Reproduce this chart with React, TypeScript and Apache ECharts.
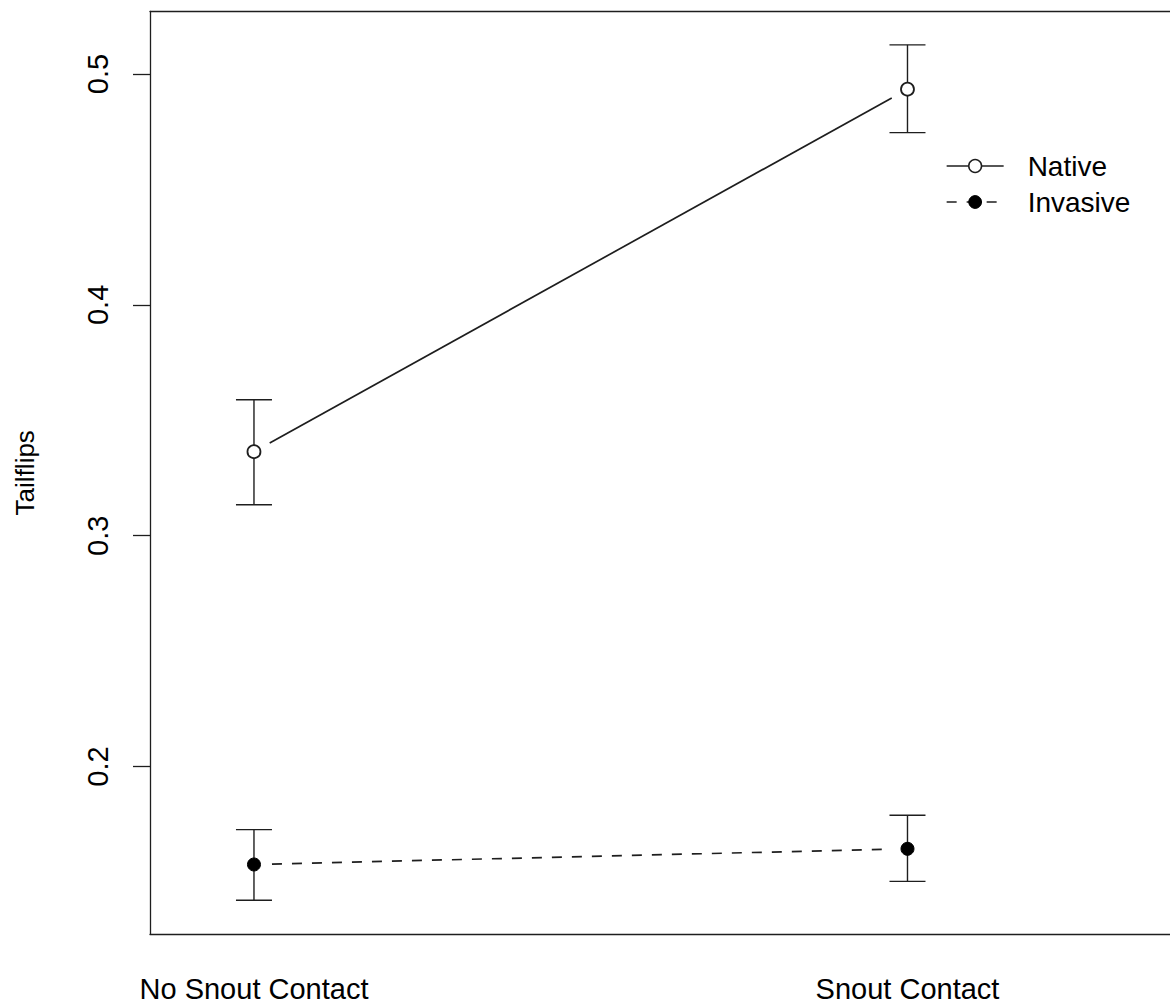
import React, { useEffect, useRef } from "react";
import * as echarts from "echarts";

// Treatment groups along the x axis
const categories = ["No Snout Contact", "Snout Contact"];

// Mean tailflip rate with error bar limits, per group
const nativeMean = [0.3364, 0.4934];
const nativeLower = [0.3134, 0.4746];
const nativeUpper = [0.3589, 0.5126];

const invasiveMean = [0.1576, 0.1644];
const invasiveLower = [0.1421, 0.1503];
const invasiveUpper = [0.1727, 0.1789];

const yTicks = [0.2, 0.3, 0.4, 0.5];

const INK = "#1e1e1e";
const FONT = "'Liberation Sans', Arial, sans-serif";

// category i sits at x = i + 1 on the numeric axis
const xs = categories.map((_, i) => i + 1);

function segments(mean: number[]) {
  const out: number[][] = [];
  for (let i = 0; i < mean.length - 1; i++) {
    out.push([xs[i], mean[i], xs[i + 1], mean[i + 1]]);
  }
  return out;
}

function errorData(lo: number[], hi: number[]) {
  return xs.map((x, i) => [x, lo[i], hi[i]]);
}

// connecting line that stops short of each point marker
function segmentRenderer(dash: number[] | null) {
  const gap = 18;
  return (params: any, api: any) => {
    const a = api.coord([api.value(0), api.value(1)]);
    const b = api.coord([api.value(2), api.value(3)]);
    const dx = b[0] - a[0];
    const dy = b[1] - a[1];
    const len = Math.hypot(dx, dy) || 1;
    const ux = dx / len;
    const uy = dy / len;
    return {
      type: "line",
      shape: {
        x1: a[0] + ux * gap,
        y1: a[1] + uy * gap,
        x2: b[0] - ux * gap,
        y2: b[1] - uy * gap,
      },
      style: { stroke: INK, lineWidth: 1.7, lineDash: dash || undefined },
    };
  };
}

function errorRenderer(params: any, api: any) {
  const x = api.value(0);
  const lo = api.coord([x, api.value(1)]);
  const hi = api.coord([x, api.value(2)]);
  const hw = 18;
  const style = { stroke: INK, lineWidth: 1.4 };
  return {
    type: "group",
    children: [
      { type: "line", shape: { x1: lo[0], y1: lo[1], x2: hi[0], y2: hi[1] }, style },
      { type: "line", shape: { x1: lo[0] - hw, y1: lo[1], x2: lo[0] + hw, y2: lo[1] }, style },
      { type: "line", shape: { x1: hi[0] - hw, y1: hi[1], x2: hi[0] + hw, y2: hi[1] }, style },
    ],
  };
}

export default function App() {
  const ref = useRef<HTMLDivElement>(null);

  useEffect(() => {
    document.body.style.margin = "0";
    const chart = echarts.init(ref.current!, null, { renderer: "svg" });

    const xMin = 0.8409;
    const xMax = 2.4017;

    chart.setOption({
      animation: false,
      backgroundColor: "#ffffff",
      textStyle: { fontFamily: FONT, color: "#000" },
      grid: { left: 150, right: 0, top: 11.5, bottom: 68.5, containLabel: false },
      xAxis: [
        {
          type: "value",
          position: "bottom",
          min: xMin,
          max: xMax,
          splitLine: { show: false },
          axisLine: { show: true, lineStyle: { color: INK, width: 1.3 } },
          axisTick: { show: false },
          axisLabel: {
            show: true,
            customValues: xs,
            formatter: (v: number) => categories[Math.round(v) - 1] ?? "",
            fontSize: 29,
            fontFamily: FONT,
            color: "#000",
            margin: 40,
          },
        },
        {
          type: "value",
          position: "top",
          min: xMin,
          max: xMax,
          splitLine: { show: false },
          axisLine: { show: true, lineStyle: { color: INK, width: 1.3 } },
          axisTick: { show: false },
          axisLabel: { show: false },
        },
      ],
      yAxis: {
        type: "value",
        min: 0.12749,
        max: 0.52706,
        name: "Tailflips",
        nameLocation: "middle",
        nameRotate: 90,
        nameGap: 112,
        nameTextStyle: { fontSize: 26, fontFamily: FONT, color: "#000" },
        splitLine: { show: false },
        axisLine: { show: true, lineStyle: { color: INK, width: 1.3 } },
        axisTick: {
          show: true,
          length: 17,
          customValues: yTicks,
          lineStyle: { color: INK, width: 1.3 },
        },
        axisLabel: {
          show: true,
          customValues: yTicks,
          rotate: 90,
          fontSize: 29,
          fontFamily: FONT,
          color: "#000",
          margin: 38,
          formatter: (v: number) => v.toFixed(1),
        },
      },
      legend: {
        orient: "vertical",
        left: 941,
        top: 147,
        itemWidth: 57,
        itemHeight: 16,
        itemGap: 8,
        textStyle: {
          fontSize: 28,
          fontFamily: FONT,
          color: "#000",
          padding: [0, 0, 0, 19],
        },
        data: [
          {
            name: "Native",
            lineStyle: { color: INK, width: 1.3, type: "solid", opacity: 1 },
            itemStyle: { color: "#fff", borderColor: INK, borderWidth: 1.5 },
          },
          {
            name: "Invasive",
            lineStyle: { color: INK, width: 1.3, type: [10, 10], opacity: 1 },
            itemStyle: { color: "#000", borderColor: "#000", borderWidth: 1 },
          },
        ],
      },
      series: [
        {
          name: "Native link",
          type: "custom",
          renderItem: segmentRenderer(null),
          encode: { x: [0, 2], y: [1, 3] },
          data: segments(nativeMean),
          z: 1,
        },
        {
          name: "Invasive link",
          type: "custom",
          renderItem: segmentRenderer([10, 10]),
          encode: { x: [0, 2], y: [1, 3] },
          data: segments(invasiveMean),
          z: 1,
        },
        {
          name: "Native error",
          type: "custom",
          renderItem: errorRenderer,
          encode: { x: 0, y: [1, 2] },
          data: errorData(nativeLower, nativeUpper),
          z: 2,
        },
        {
          name: "Invasive error",
          type: "custom",
          renderItem: errorRenderer,
          encode: { x: 0, y: [1, 2] },
          data: errorData(invasiveLower, invasiveUpper),
          z: 2,
        },
        {
          name: "Native",
          type: "line",
          data: xs.map((x, i) => [x, nativeMean[i]]),
          symbol: "circle",
          symbolSize: 13,
          showSymbol: true,
          lineStyle: { opacity: 0 },
          itemStyle: { color: "#fff", borderColor: INK, borderWidth: 1.8 },
          z: 3,
        },
        {
          name: "Invasive",
          type: "line",
          data: xs.map((x, i) => [x, invasiveMean[i]]),
          symbol: "circle",
          symbolSize: 13,
          showSymbol: true,
          lineStyle: { opacity: 0 },
          itemStyle: { color: "#000", borderColor: "#000", borderWidth: 1 },
          z: 3,
        },
      ],
    });

    return () => chart.dispose();
  }, []);

  return (
    <div
      ref={ref}
      style={{ position: "absolute", left: 0, top: 0, width: 1170, height: 1003 }}
    />
  );
}
